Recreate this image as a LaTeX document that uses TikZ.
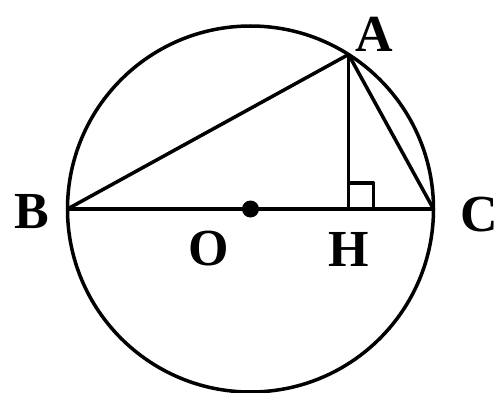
\documentclass[tikz,border=0pt]{standalone}
\usepackage{fontspec}
\setmainfont{Liberation Serif}
\usetikzlibrary{calc}

\begin{document}
\begin{tikzpicture}[
    x=1pt, y=1pt,
    line/.style={line width=3.5pt, line join=round},
    ptlabel/.style={font=\fontsize{52}{52}\selectfont\bfseries, inner sep=0pt}
]
\useasboundingbox (0,0) rectangle (504,392);

% Points
\coordinate (O) at (250.5,183);
\coordinate (B) at ($(O)+(180:183)$);
\coordinate (C) at ($(O)+(0:183)$);
\coordinate (A) at ($(O)+(57.6:183)$);
\coordinate (H) at (A |- O);

% Circle and triangle
\draw[line] (O) circle (183);
\draw[line] (B) -- (C);
\draw[line] (B) -- (A) -- (C);
\draw[line] (A) -- (H);
\draw[line] ($(H)+(0,26)$) -- ($(H)+(25,26)$) -- ($(H)+(25,0)$);
\fill (O) circle (8.5);

% Labels
\node[ptlabel] (labA) at ($(A)+(26,20)$) {A};
\node[ptlabel] (labB) at ($(B)+(-36,-3)$) {B};
\node[ptlabel] (labC) at ($(C)+(46,-6)$) {C};
\node[ptlabel] (labO) at ($(O)+(-42,-40)$) {O};
\node[ptlabel] (labH) at ($(H)+(0,-40)$) {H};

\end{tikzpicture}
\end{document}
